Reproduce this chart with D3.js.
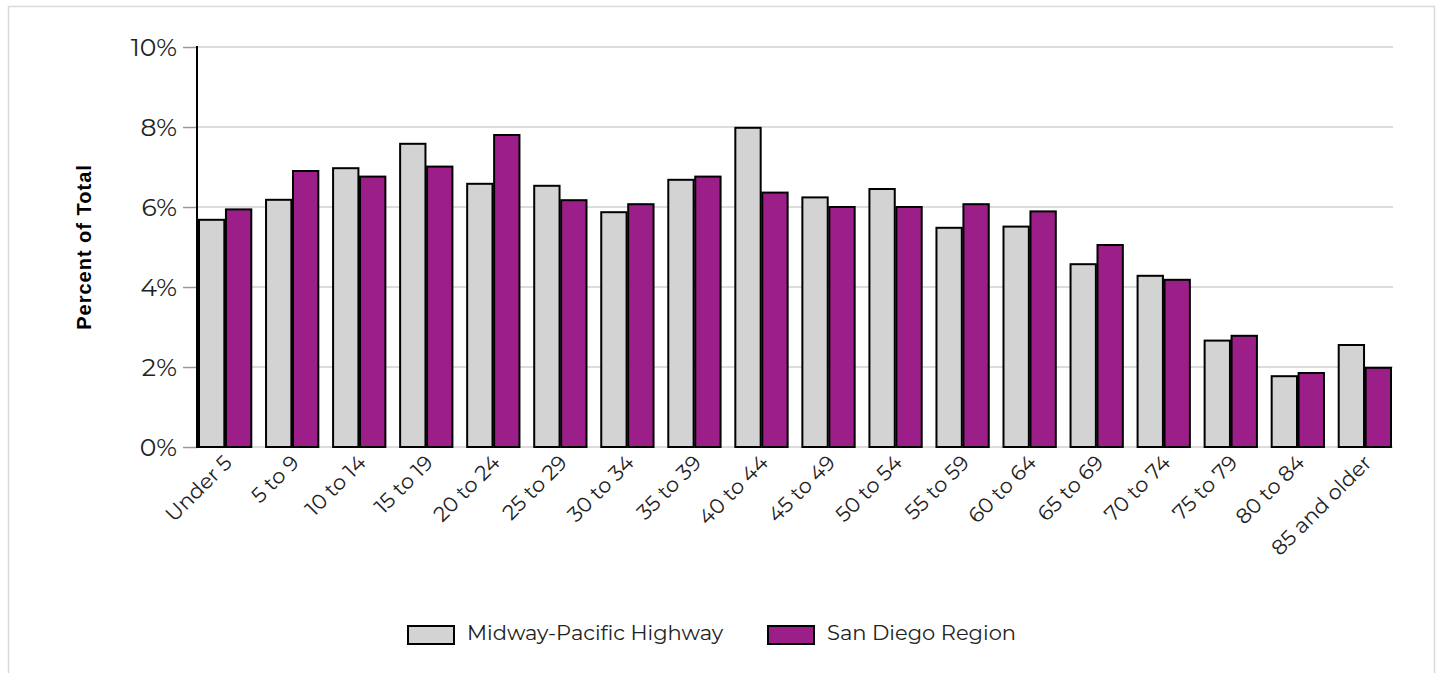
<!DOCTYPE html>
<html>
<head>
<meta charset="utf-8">
<script src="https://cdn.jsdelivr.net/npm/d3@7"></script>
<style>
  html, body { margin: 0; padding: 0; background: #fff; }
  svg { display: block; }
</style>
</head>
<body>
<svg id="chart" width="1439" height="673"></svg>
<script>
const categories = ["Under 5","5 to 9","10 to 14","15 to 19","20 to 24","25 to 29","30 to 34","35 to 39","40 to 44","45 to 49","50 to 54","55 to 59","60 to 64","65 to 69","70 to 74","75 to 79","80 to 84","85 and older"];
const seriesNames = ["Midway-Pacific Highway", "San Diego Region"];
const midwayValues = [5.68, 6.18, 6.97, 7.58, 6.58, 6.53, 5.87, 6.68, 7.98, 6.24, 6.45, 5.48, 5.51, 4.57, 4.28, 2.66, 1.77, 2.55];
const sandiegoValues = [5.94, 6.90, 6.76, 7.01, 7.80, 6.17, 6.07, 6.76, 6.36, 6.00, 6.00, 6.07, 5.89, 5.05, 4.18, 2.78, 1.85, 1.98];
const yTicks = [0, 2, 4, 6, 8, 10];
const colors = ["#d3d3d3", "#9c1e89"];
const font = "Montserrat, 'DejaVu Sans', 'Noto Sans', sans-serif";

const svg = d3.select("#chart");

// card border
svg.append("rect").attr("x", 8.5).attr("y", 6.5).attr("width", 1426).attr("height", 700)
  .attr("fill", "#fff").attr("stroke", "#d9d9d9").attr("stroke-width", 1.5);

const y = d3.scaleLinear().domain([0, 10]).range([447, 47]);
const x = d3.scaleBand().domain(categories).range([199, 1391]).paddingInner(0.22).paddingOuter(0);
const xs = d3.scaleBand().domain(seriesNames).range([0, x.bandwidth()]).padding(0.06).paddingOuter(0);

// gridlines
svg.append("g").selectAll("line").data(yTicks).join("line")
  .attr("x1", 197).attr("x2", 1393)
  .attr("y1", d => y(d)).attr("y2", d => y(d))
  .attr("stroke", "#dcdcdc").attr("stroke-width", 2);

// y axis
const yAxis = svg.append("g").attr("transform", "translate(197,0)")
  .call(d3.axisLeft(y).tickValues(yTicks).tickFormat(d => d + "%").tickSize(14).tickPadding(6));
yAxis.select(".domain").remove();
yAxis.selectAll(".tick line").attr("stroke", "#999").attr("stroke-width", 1.5);
yAxis.selectAll(".tick text").attr("font-family", font).attr("font-size", 25).attr("fill", "#222");

// bars
const groups = svg.append("g").selectAll("g").data(categories).join("g")
  .attr("transform", d => `translate(${x(d)},0)`);
groups.selectAll("rect").data((d, i) => [
    {s: seriesNames[0], v: midwayValues[i], c: colors[0]},
    {s: seriesNames[1], v: sandiegoValues[i], c: colors[1]}])
  .join("rect")
  .attr("x", d => xs(d.s)).attr("width", xs.bandwidth())
  .attr("y", d => y(d.v)).attr("height", d => y(0) - y(d.v))
  .attr("fill", d => d.c).attr("stroke", "#000").attr("stroke-width", 2);

// y axis line
svg.append("line").attr("x1", 197).attr("x2", 197).attr("y1", 46).attr("y2", 448)
  .attr("stroke", "#000").attr("stroke-width", 2);

// x labels
svg.append("g").selectAll("text").data(categories).join("text")
  .attr("transform", d => `translate(${x(d) + x.bandwidth() / 2 + 8},464) rotate(-45)`)
  .attr("text-anchor", "end")
  .attr("font-family", font).attr("font-size", 21).attr("fill", "#222")
  .text(d => d);

// y title
svg.append("text")
  .attr("transform", "translate(91,247) rotate(-90)")
  .attr("text-anchor", "middle")
  .attr("font-family", "'Liberation Sans', Arial, sans-serif").attr("font-weight", "bold")
  .attr("font-size", 20).attr("letter-spacing", 1).attr("fill", "#000")
  .text("Percent of Total");

// legend
const legendX = [408, 768];
const leg = svg.append("g").selectAll("g").data(seriesNames).join("g")
  .attr("transform", (d, i) => `translate(${legendX[i]},626)`);
leg.append("rect").attr("width", 46).attr("height", 18)
  .attr("fill", (d, i) => colors[i]).attr("stroke", "#000").attr("stroke-width", 2);
leg.append("text").attr("x", 59).attr("y", 14)
  .attr("font-family", font).attr("font-size", 21).attr("fill", "#222")
  .text(d => d);
</script>
</body>
</html>
